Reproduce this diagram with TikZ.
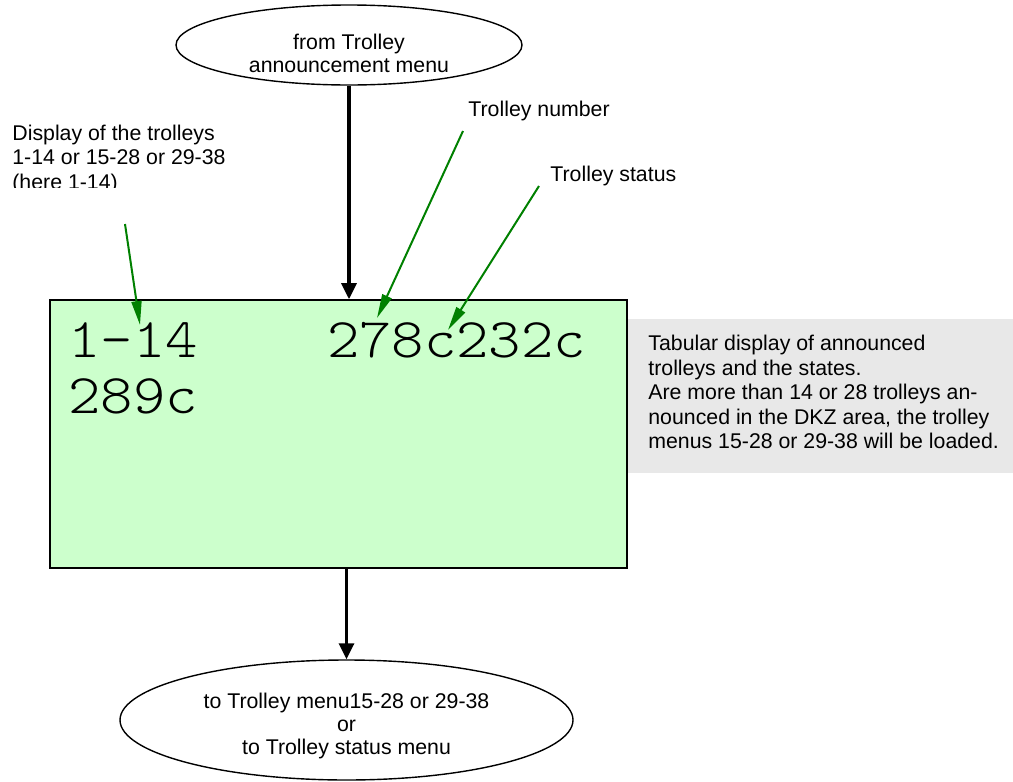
\documentclass[tikz,border=0pt]{standalone}
\usepackage{fontspec}
\setmainfont{Liberation Sans}
\newfontfamily\lcdfont[FakeStretch=1.1]{Latin Modern Mono Light}
\usetikzlibrary{shapes.geometric,arrows.meta}
\definecolor{lcdgreen}{RGB}{204,255,204}
\definecolor{notegray}{RGB}{232,232,232}
\definecolor{pointergreen}{RGB}{0,128,0}

\begin{document}
\begin{tikzpicture}[x=0.5pt, y=-0.5pt,
    every node/.style={inner sep=0pt},
    terminal/.style={ellipse, draw, line width=0.7pt},
    caption/.style={font=\fontsize{10.65}{11.5}\selectfont, align=center},
    note/.style={font=\fontsize{10.65}{12.25}\selectfont, align=left, anchor=west},
    lcdrow/.style={font=\lcdfont\fontsize{28}{28}\selectfont, anchor=base west},
    flow/.style={-{Triangle[length=8pt,width=7.5pt]}, line width=1.6pt},
    pointer/.style={-{Triangle[length=12pt,width=5pt]}, pointergreen, line width=1pt}]
    \useasboundingbox (0,0) rectangle (1013,782);

    % grey note behind the display
    \node[fill=notegray, minimum width=193pt, minimum height=77pt, anchor=north west] (panel) at (627,319) {};
    \node[note] (panelnote) at (648,392) {Tabular display of announced\\trolleys and the states.\\Are more than 14 or 28 trolleys an-\\nounced in the DKZ area, the trolley\\menus 15-28 or 29-38 will be loaded.};

    % the display itself
    \node[draw, fill=lcdgreen, line width=0.8pt, minimum width=288.5pt, minimum height=134pt] (lcd) at (338.5,434) {};
    \node[lcdrow] (rowone) at (68,357) {1-14\hphantom{0000}278c232c};
    \node[lcdrow] (rowtwo) at (68,413) {289c};

    % entry and exit
    \node[terminal, minimum width=173pt, minimum height=40pt] (src) at (349,45) {};
    \node[caption] (srctext) at (349,53.5) {from Trolley\\announcement menu};
    \node[terminal, minimum width=226.5pt, minimum height=60pt] (dst) at (346.5,720) {};
    \node[caption] (dsttext) at (346.5,725.5) {to Trolley menu15-28 or 29-38\\or\\to Trolley status menu};

    \draw[flow] (src.south) -- (src.south |- lcd.north);
    \draw[flow] (lcd.south -| dst.north) -- (dst.north);

    % callouts
    \begin{scope}
        \clip (0,0) rectangle (1013,187);
        \node[note] (rangelabel) at (12,159) {Display of the trolleys\\1-14 or 15-28 or 29-38\\(here 1-14)};
    \end{scope}
    \node[note] (numlabel) at (468,111) {Trolley number};
    \node[note] (statlabel) at (550,176) {Trolley status};

    \coordinate (rangetail) at (125,224);
    \coordinate (rangetip) at (140,325);
    \coordinate (numtail) at (463,131);
    \coordinate (numtip) at (377,318);
    \coordinate (stattail) at (539,186);
    \coordinate (stattip) at (448,330);
    \draw[pointer] (rangetail) -- (rangetip);
    \draw[pointer] (numtail) -- (numtip);
    \draw[pointer] (stattail) -- (stattip);
\end{tikzpicture}
\end{document}
